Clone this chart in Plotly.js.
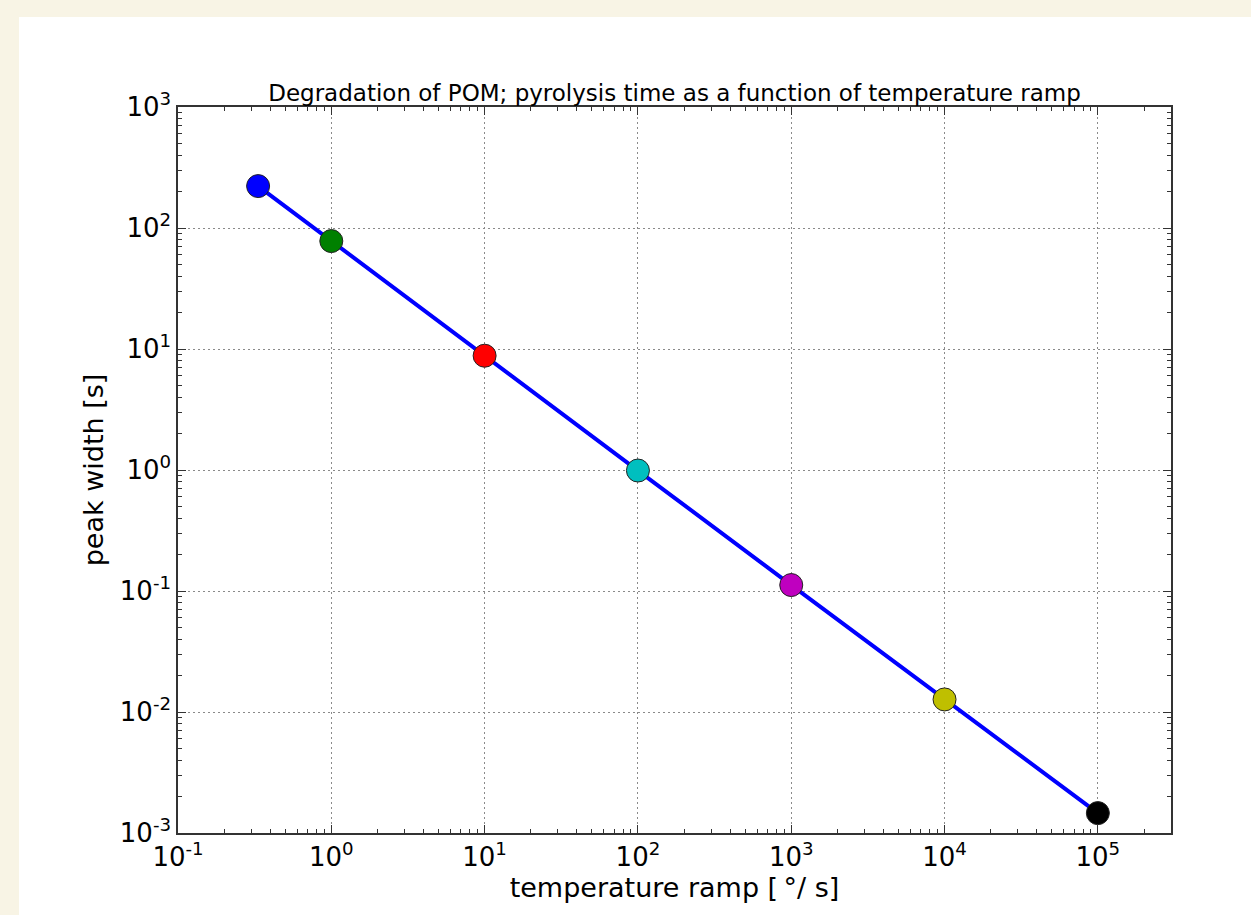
<!DOCTYPE html>
<html>
<head>
<meta charset="utf-8">
<script src="https://cdn.plot.ly/plotly-3.0.1.min.js"></script>
<style>
  html, body { margin: 0; padding: 0; background: #f8f4e5; width: 1251px; height: 915px; overflow: hidden; }
  #chart { position: absolute; left: 19px; top: 17px; width: 1232px; height: 898px; background: #ffffff; }
</style>
</head>
<body>
<div id="chart"></div>
<script>
// Data
const rampRates = [0.333, 1, 10, 100, 1000, 10000, 100000];          // temperature ramp [°/s]
const peakWidths = [222, 78, 8.8, 0.99, 0.112, 0.0127, 0.00146];     // peak width [s]
const markerColors = ['#0000ff', '#008000', '#ff0000', '#00bfbf', '#bf00bf', '#bfbf00', '#000000'];

const xTickVals = [0.1, 1, 10, 100, 1000, 10000, 100000];
const xTickText = ['10<sup>-1</sup>', '10<sup>0</sup>', '10<sup>1</sup>', '10<sup>2</sup>', '10<sup>3</sup>', '10<sup>4</sup>', '10<sup>5</sup>'];
const yTickVals = [0.001, 0.01, 0.1, 1, 10, 100, 1000];
const yTickText = ['10<sup>-3</sup>', '10<sup>-2</sup>', '10<sup>-1</sup>', '10<sup>0</sup>', '10<sup>1</sup>', '10<sup>2</sup>', '10<sup>3</sup>'];

function minorVals(lo, hi) {
  const out = [];
  for (let e = lo; e <= hi; e++) {
    for (let m = 2; m <= 9; m++) out.push(m * Math.pow(10, e));
  }
  return out;
}

const trace = {
  x: rampRates,
  y: peakWidths,
  type: 'scatter',
  mode: 'lines+markers',
  line: { color: '#0000ff', width: 4 },
  marker: { color: markerColors, size: 23, line: { color: '#222222', width: 1 } },
  showlegend: false,
  hoverinfo: 'x+y'
};

const fontFam = 'DejaVu Sans, sans-serif';
const axisCommon = {
  type: 'log',
  showline: true,
  linecolor: '#333333',
  linewidth: 1.5,
  mirror: 'allticks',
  ticks: 'inside',
  ticklen: 8,
  tickwidth: 1,
  tickcolor: '#333333',
  showgrid: true,
  gridcolor: '#8a8a8a',
  gridwidth: 1,
  griddash: '1.5px,3.5px',
  zeroline: false,
  tickmode: 'array',
  tickfont: { family: fontFam, size: 26, color: '#000000' }
};

const layout = {
  width: 1232,
  height: 898,
  paper_bgcolor: '#ffffff',
  plot_bgcolor: '#ffffff',
  margin: { l: 159, r: 80, t: 90, b: 82 },
  font: { family: fontFam, color: '#000000' },
  title: {
    text: 'Degradation of POM; pyrolysis time as a function of temperature ramp',
    font: { family: fontFam, size: 23, color: '#000000' },
    x: 0.5, xref: 'paper', xanchor: 'center',
    y: 1, yref: 'paper', yanchor: 'bottom', pad: { b: 6 }
  },
  xaxis: Object.assign({}, axisCommon, {
    range: [-1, Math.log10(300000)],
    tickvals: xTickVals,
    ticktext: xTickText,
    minor: { tickmode: 'array', tickvals: minorVals(-1, 5), ticks: 'inside', ticklen: 4, tickcolor: '#333333', showgrid: false },
    title: { text: 'temperature ramp [\u2009°/ s]', font: { family: fontFam, size: 27, color: '#000000' }, standoff: 6 }
  }),
  yaxis: Object.assign({}, axisCommon, {
    range: [-3, 3],
    tickvals: yTickVals,
    ticktext: yTickText,
    minor: { tickmode: 'array', tickvals: minorVals(-3, 2), ticks: 'inside', ticklen: 4, tickcolor: '#333333', showgrid: false },
    title: { text: 'peak width [s]', font: { family: fontFam, size: 27, color: '#000000' }, standoff: 8 }
  })
};

Plotly.newPlot('chart', [trace], layout, { displayModeBar: false, responsive: false });
</script>
</body>
</html>
